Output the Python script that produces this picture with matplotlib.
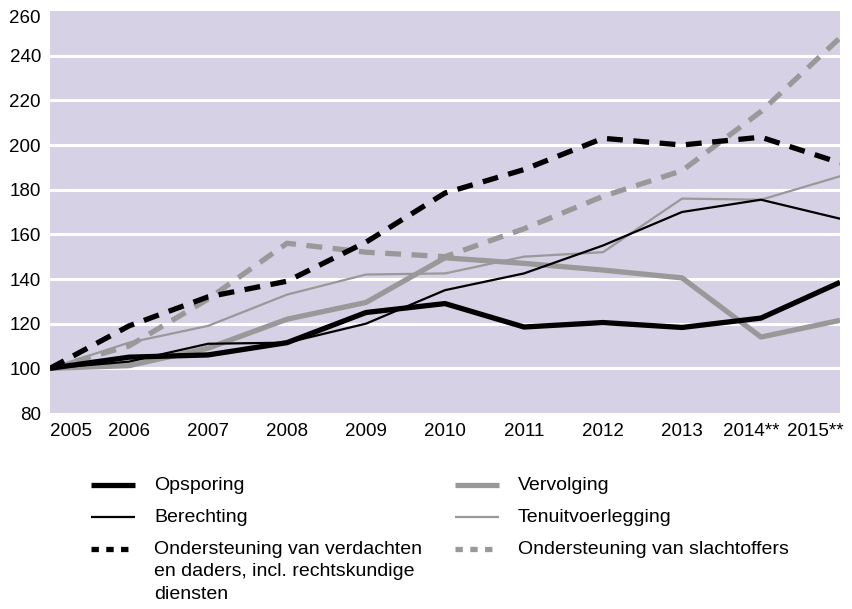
import matplotlib
matplotlib.use('Agg')
import matplotlib.pyplot as plt
from matplotlib.lines import Line2D
from matplotlib.transforms import ScaledTranslation

plt.rcParams['font.family'] = ['Liberation Sans', 'DejaVu Sans']

# index 2005 = 100
YEARS = ['2005', '2006', '2007', '2008', '2009', '2010', '2011', '2012', '2013', '2014**', '2015**']
opsporing = [100, 105, 106, 111.5, 125, 129, 118.5, 120.5, 118.3, 122.5, 138.5]
berechting = [100, 103, 111, 111.5, 120, 135, 142.5, 155, 170, 175.5, 167]
vervolging = [100, 101.2, 109, 122, 129.5, 149.5, 147, 144, 140.5, 114, 121.5]
tenuitvoer = [100, 111.5, 119, 133, 142, 142.5, 150, 152, 176, 175.5, 186]
verdachten = [100, 119, 132, 139, 156.5, 178.5, 189, 203, 200, 203.5, 192]
slachtoffers = [100, 110, 131, 156, 152, 150, 162.5, 177, 188.5, 215, 248]

BG = '#d6d1e5'
GREY = '#999999'

W, H = 852, 609


def fx(px):
    return px / W


def fy(py):
    return 1 - py / H


def main():
    fig = plt.figure(figsize=(W / 100, H / 100), dpi=100)
    ax = fig.add_axes([fx(50), fy(413), (840 - 50) / W, (413 - 11) / H])
    ax.set_facecolor(BG)
    for s in ax.spines.values():
        s.set_visible(False)

    x = list(range(len(YEARS)))
    ax.plot(x, tenuitvoer, color=GREY, lw=1.6, zorder=3)
    ax.plot(x, vervolging, color=GREY, lw=3.8, zorder=3, solid_capstyle='butt')
    ax.plot(x, slachtoffers, color=GREY, lw=3.8, zorder=4, dashes=(3, 2),
            dash_capstyle='butt')
    ax.plot(x, berechting, color='black', lw=1.6, zorder=5)
    ax.plot(x, opsporing, color='black', lw=3.8, zorder=5, solid_capstyle='butt')
    ax.plot(x, verdachten, color='black', lw=3.8, zorder=6, dashes=(3, 2),
            dash_capstyle='butt')

    ax.set_xlim(0, len(YEARS) - 1)
    ax.set_ylim(80, 260)
    ax.set_yticks(range(80, 261, 20))
    for v in range(100, 241, 20):
        ax.axhline(v, color='white', lw=2.2, zorder=1)

    ax.set_xticks(x)
    ax.set_xticklabels(YEARS)
    ax.tick_params(axis='both', length=0, labelsize=13.5)
    ax.tick_params(axis='x', pad=7)
    ax.tick_params(axis='y', pad=6.5)

    xl = ax.get_xticklabels()
    xl[0].set_ha('left')
    xl[-1].set_ha('right')
    xl[-2].set_transform(xl[-2].get_transform() + ScaledTranslation(-0.10, 0, fig.dpi_scale_trans))
    xl[-1].set_transform(xl[-1].get_transform() + ScaledTranslation(0.04, 0, fig.dpi_scale_trans))
    yl = ax.get_yticklabels()
    yl[-1].set_va('top')
    yl[-1].set_transform(yl[-1].get_transform() + ScaledTranslation(0, 0.01, fig.dpi_scale_trans))

    # legend, drawn by hand
    entries = [
        (91, 485, 'black', 3.8, None, 'Opsporing'),
        (91, 517, 'black', 1.6, None, 'Berechting'),
        (91, 549, 'black', 3.8, (1.4, 1.4), 'Ondersteuning van verdachten\nen daders, incl. rechtskundige\ndiensten'),
        (455, 485, GREY, 3.8, None, 'Vervolging'),
        (455, 517, GREY, 1.6, None, 'Tenuitvoerlegging'),
        (455, 549, GREY, 3.8, (1.4, 1.4), 'Ondersteuning van slachtoffers'),
    ]
    for px, py, c, lw, dash, label in entries:
        ln = Line2D([fx(px), fx(px + 44)], [fy(py), fy(py)], color=c, lw=lw,
                    solid_capstyle='butt', dash_capstyle='butt')
        if dash:
            ln.set_dashes(dash)
        fig.add_artist(ln)
        fig.text(fx(px + 63), fy(py - 8), label, fontsize=14, va='top', ha='left',
                 linespacing=1.42)

    fig.savefig('out.png', dpi=100, facecolor='white')


if __name__ == "__main__":
    main()
